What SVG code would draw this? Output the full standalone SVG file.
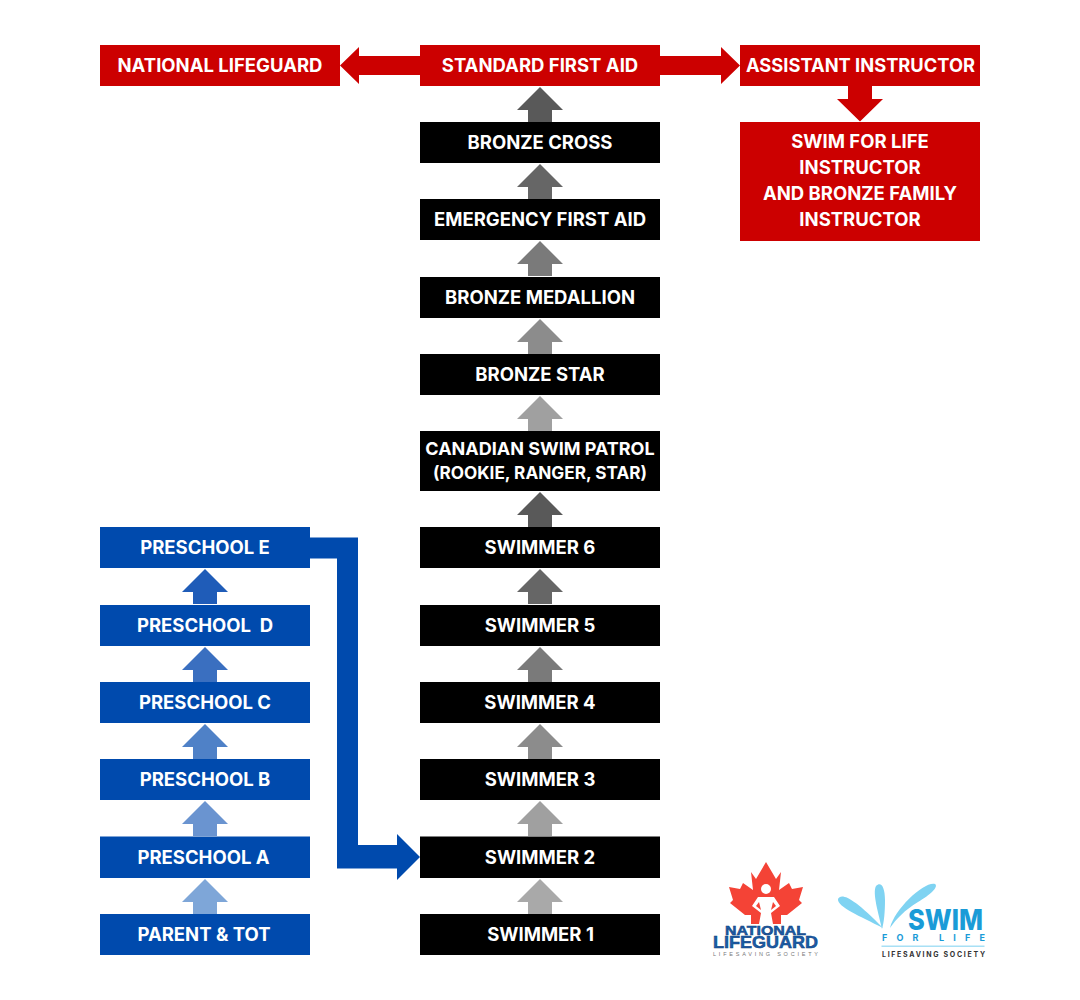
<svg xmlns="http://www.w3.org/2000/svg" width="1080" height="1000" viewBox="0 0 1080 1000">
<style>
text{font-family:"Inter","Liberation Sans",sans-serif;font-weight:700;font-size:18.500px;fill:#fff;text-anchor:middle}
.k{fill:#000}.b{fill:#004aad}.r{fill:#cc0000}
.lg{font-family:"Liberation Sans",sans-serif;fill:#1a5ca8;stroke:#123f7a;stroke-width:.5}
.sp{fill:#7fd3f2}
</style>
<defs>
<path id="up" d="M0 0L23 23H12V35H-12V23H-23Z"/>
</defs>
<rect width="1080" height="1000" fill="#fff"/>
<g id="connectors">
<path class="r" d="M340 65.500L359 47V56H420V75H359V84Z"/>
<path class="r" d="M740 65.500L721 47V56H660V75H721V84Z"/>
<path class="r" d="M860 121.500L837 99H848V86H872V99H883Z"/>
<use href="#up" x="540" y="87" fill="#595959"/>
<use href="#up" x="540" y="164" fill="#666"/>
<use href="#up" x="540" y="241" fill="#7a7a7a"/>
<use href="#up" x="540" y="319" fill="#8c8c8c"/>
<use href="#up" x="540" y="396" fill="#a0a0a0"/>
<use href="#up" x="540" y="492" fill="#595959"/>
<use href="#up" x="540" y="569" fill="#666"/>
<use href="#up" x="540" y="647" fill="#7a7a7a"/>
<use href="#up" x="540" y="724" fill="#8c8c8c"/>
<use href="#up" x="540" y="801" fill="#a0a0a0"/>
<use href="#up" x="540" y="879" fill="#a9a9a9"/>
<use href="#up" x="205" y="569" fill="#1f5cb8"/>
<use href="#up" x="205" y="647" fill="#3a6fc0"/>
<use href="#up" x="205" y="724" fill="#4f81c7"/>
<use href="#up" x="205" y="801" fill="#6a94d0"/>
<use href="#up" x="205" y="879" fill="#7ea6d8"/>
<path class="b" d="M310 537.500H358V845H397V834L420 857L397 880V868.500H337V558.500H310Z"/>
</g>
<g id="national-lifeguard"><rect class="r" x="100" y="45" width="240" height="41"/><text x="220" y="71.500">NATIONAL LIFEGUARD</text></g>
<g id="standard-first-aid"><rect class="r" x="420" y="45" width="240" height="41"/><text x="540" y="71.500">STANDARD FIRST AID</text></g>
<g id="assistant-instructor"><rect class="r" x="740" y="45" width="240" height="41"/><text x="860.500" y="71.500" style="font-size:18.300px">ASSISTANT INSTRUCTOR</text></g>
<g id="swim-for-life-instructor"><rect class="r" x="740" y="122" width="240" height="119"/>
<text x="860" y="148">SWIM FOR LIFE</text><text x="860" y="174">INSTRUCTOR</text><text x="860" y="200">AND BRONZE FAMILY</text><text x="860" y="226">INSTRUCTOR</text></g>
<g id="bronze-cross"><rect class="k" x="420" y="122" width="240" height="41"/><text x="540" y="148.500">BRONZE CROSS</text></g>
<g id="emergency-first-aid"><rect class="k" x="420" y="199" width="240" height="41"/><text x="540" y="225.500">EMERGENCY FIRST AID</text></g>
<g id="bronze-medallion"><rect class="k" x="420" y="277" width="240" height="41"/><text x="540" y="303.500">BRONZE MEDALLION</text></g>
<g id="bronze-star"><rect class="k" x="420" y="354" width="240" height="41"/><text x="540" y="380.500">BRONZE STAR</text></g>
<g id="canadian-swim-patrol"><rect class="k" x="420" y="431" width="240" height="60"/><text x="540" y="455" style="font-size:18px">CANADIAN SWIM PATROL</text><text x="540" y="479" style="font-size:17.200px">(ROOKIE, RANGER, STAR)</text></g>
<g id="swimmer-6"><rect class="k" x="420" y="527" width="240" height="41"/><text x="540" y="553.500">SWIMMER 6</text></g>
<g id="swimmer-5"><rect class="k" x="420" y="605" width="240" height="41"/><text x="540" y="631.500">SWIMMER 5</text></g>
<g id="swimmer-4"><rect class="k" x="420" y="682" width="240" height="41"/><text x="540" y="708.500">SWIMMER 4</text></g>
<g id="swimmer-3"><rect class="k" x="420" y="759" width="240" height="41"/><text x="540" y="785.500">SWIMMER 3</text></g>
<g id="swimmer-2"><rect class="k" x="420" y="836.500" width="240" height="41.500"/><text x="540" y="863.500">SWIMMER 2</text></g>
<g id="swimmer-1"><rect class="k" x="420" y="914" width="240" height="41"/><text x="540.500" y="940.500">SWIMMER 1</text></g>
<g id="preschool-e"><rect class="b" x="100" y="527" width="210" height="41"/><text x="205" y="553.500">PRESCHOOL E</text></g>
<g id="preschool-d"><rect class="b" x="100" y="605" width="210" height="41"/><text x="205" y="631.500" xml:space="preserve">PRESCHOOL  D</text></g>
<g id="preschool-c"><rect class="b" x="100" y="682" width="210" height="41"/><text x="205" y="708.500">PRESCHOOL C</text></g>
<g id="preschool-b"><rect class="b" x="100" y="759" width="210" height="41"/><text x="205" y="785.500">PRESCHOOL B</text></g>
<g id="preschool-a"><rect class="b" x="100" y="836.500" width="210" height="41.500"/><text x="203.500" y="863.500">PRESCHOOL A</text></g>
<g id="parent-tot"><rect class="b" x="100" y="914" width="210" height="41"/><text x="204" y="940.500">PARENT &amp; TOT</text></g>
<g id="logo-national-lifeguard">
<path fill="#f44336" d="M766 862L776 879L781 872L779 890L789 883L792 889L803 887L799 900L802 903L787 915L781 915L781 924H751L751 915L745 915L730 903L733 900L729 887L740 889L743 883L753 890L751 872L756 879Z"/>
<circle cx="766" cy="889" r="5" fill="#fff"/>
<path fill="#fff" d="M758 897H774L780 906L771 913L773 924H759L761 913L752 906Z"/>
<path fill="#f44336" d="M759 902L756 906L761 910ZM773 902L776 906L771 910Z"/>
<text class="lg" x="765.500" y="935" textLength="81" lengthAdjust="spacingAndGlyphs" style="font-weight:700;font-size:13.500px">NATIONAL</text>
<text class="lg" x="765.500" y="948" textLength="105" lengthAdjust="spacingAndGlyphs" style="font-weight:700;font-size:16.500px">LIFEGUARD</text>
<text x="765.500" y="955.500" textLength="105" style="font-family:'Liberation Sans',sans-serif;font-weight:400;font-size:5.500px;fill:#777">LIFESAVING SOCIETY</text>
</g>
<g id="logo-swim-for-life">
<path class="sp" d="M838 899C841 893 852 896 883 928C860 916 837 907 838 899Z"/>
<path class="sp" d="M876 886C881 881 885 887 885 900C885 912 884 922 882 929C879 915 872 893 876 886Z"/>
<path class="sp" d="M935 884C939 887 930 895 918 902C905 910 896 919 890 928C895 908 925 881 935 884Z"/>
<text x="945.500" y="930" textLength="75" lengthAdjust="spacingAndGlyphs" style="font-size:28px;font-weight:800;fill:#1a9bd7">SWIM</text>
<text x="933.500" y="941" textLength="103" style="font-size:9px;fill:#1a9bd7">FOR LIFE</text>
<rect x="881.500" y="945.500" width="103" height="1.500" fill="#a8e0f5"/>
<text x="933.500" y="956.500" textLength="103" style="font-size:7px;fill:#333">LIFESAVING SOCIETY</text>
</g>
</svg>
